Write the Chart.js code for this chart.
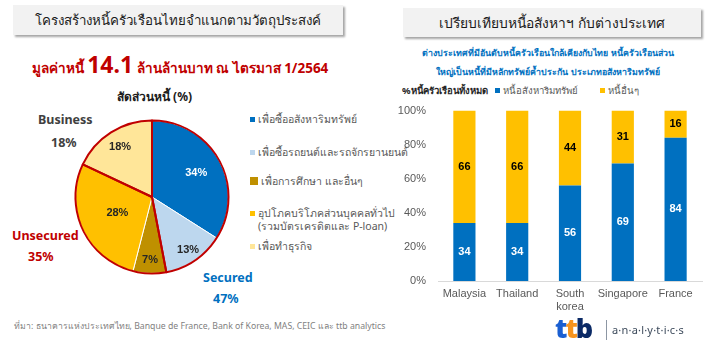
<!DOCTYPE html>
<html><head><meta charset="utf-8">
<script src="https://cdn.jsdelivr.net/npm/chart.js@4.4.1/dist/chart.umd.min.js"></script>
<style>
html,body{margin:0;padding:0;background:#fff;}
body{width:718px;height:358px;position:relative;overflow:hidden;font-family:"Noto Sans","Liberation Sans",Arial,sans-serif;}
.abs{position:absolute;white-space:nowrap;}
.tbox{position:absolute;background:#f2f2f2;box-shadow:2px 2px 2px #a6a6a6;color:#1a1a1a;display:flex;align-items:center;justify-content:center;white-space:nowrap;}
.leg{position:absolute;font-size:10.5px;color:#595959;white-space:nowrap;line-height:13px;}
.sq{display:inline-block;width:5px;height:5px;margin-right:3px;vertical-align:middle;position:relative;top:-1px;}
</style></head><body>
<div class="tbox" style="left:13px;top:5px;width:330px;height:30px;font-size:13.3px;">โครงสร้างหนี้ครัวเรือนไทยจำแนกตามวัตถุประสงค์</div>
<div class="abs" style="left:0;width:360px;top:48px;text-align:center;color:#c00000;font-size:13.5px;font-weight:bold;">มูลค่าหนี้ <span style="font-size:23px;">14.1</span> ล้านล้านบาท ณ ไตรมาส 1/2564</div>
<div class="abs" style="left:117px;top:87px;font-size:12px;font-weight:bold;color:#1a1a1a;">สัดส่วนหนี้ (%)</div>

<div class="abs" style="left:38px;top:111px;font-size:12.5px;font-weight:bold;color:#404040;">Business</div>
<div class="abs" style="left:51px;top:134px;font-size:12.5px;font-weight:bold;color:#404040;">18%</div>
<div class="abs" style="left:12px;top:227px;font-size:12.5px;font-weight:bold;color:#c00000;">Unsecured</div>
<div class="abs" style="left:28px;top:248px;font-size:12.5px;font-weight:bold;color:#c00000;">35%</div>
<div class="abs" style="left:203px;top:269px;font-size:12.5px;font-weight:bold;color:#0070c0;">Secured</div>
<div class="abs" style="left:213px;top:290px;font-size:12.5px;font-weight:bold;color:#0070c0;">47%</div>

<div id="pieLegend"></div>

<div style="position:absolute;left:62px;top:107px;width:180px;height:180px;"><canvas id="pie" width="180" height="180"></canvas></div>

<div class="tbox" style="left:403px;top:8px;width:298px;height:29px;font-size:13.8px;">เปรียบเทียบหนี้อสังหาฯ กับต่างประเทศ</div>
<div class="abs" style="left:370px;width:356px;top:44px;text-align:center;color:#0070c0;font-size:8.8px;font-weight:bold;line-height:19px;">ต่างประเทศที่มีอันดับหนี้ครัวเรือนใกล้เคียงกับไทย หนี้ครัวเรือนส่วน<br>ใหญ่เป็นหนี้ที่มีหลักทรัพย์ค้ำประกัน ประเภทอสังหาริมทรัพย์</div>
<div class="abs" style="left:402px;top:83px;font-size:9.5px;font-weight:bold;color:#262626;">%หนี้ครัวเรือนทั้งหมด</div>
<div id="barLegend"></div>

<div style="position:absolute;left:380px;top:100px;width:330px;height:215px;"><canvas id="bar" width="330" height="215"></canvas></div>

<div class="abs" style="left:14px;top:319px;font-size:8.7px;color:#7f7f7f;">ที่มา: ธนาคารแห่งประเทศไทย, Banque de France, Bank of Korea, MAS, CEIC และ ttb analytics</div>
<div class="abs" style="left:555px;top:313px;font-size:27px;font-weight:900;letter-spacing:-2px;font-family:'Open Sans','Noto Sans',sans-serif;line-height:30px;"><span style="color:#1b5fd1">t</span><span style="color:#f7941d">t</span><span style="color:#0b2a66">b</span></div>
<div class="abs" style="left:606px;top:320px;width:1px;height:20px;background:#8c96a3;"></div>
<div class="abs" style="left:612px;top:322px;font-size:11px;color:#3d4b5c;letter-spacing:0.2px;">a·n·a·l·y·t·i·c·s</div>

<script>
// ---- Pie data (left) ----
const pieLabels = ["เพื่อซื้ออสังหาริมทรัพย์","เพื่อซื้อรถยนต์และรถจักรยานยนต์","เพื่อการศึกษา และอื่นๆ","อุปโภคบริโภคส่วนบุคคลทั่วไป\n(รวมบัตรเครดิตและ P-loan)","เพื่อทำธุรกิจ"];
const pieValues = [34, 13, 7, 28, 18];
const pieColors = ["#0070c0","#bdd7ee","#bf9000","#ffc000","#ffe699"];
const pieLabelColors = ["#ffffff","#262626","#262626","#262626","#262626"];
const pieLabelRadius = [0.66, 0.84, 0.82, 0.5, 0.78];
const pieGroups = [[0,1],[2,3],[4]];

// ---- Bar data (right) ----
const countries = [["Malaysia"],["Thailand"],["South","korea"],["Singapore"],["France"]];
const realEstate = [34, 34, 56, 69, 84];
const otherDebt = [66, 66, 44, 31, 16];
const barSeriesNames = ["หนี้อสังหาริมทรัพย์","หนี้อื่นๆ"];
const barColors = ["#0070c0","#ffc000"];
const yTicks = [0,20,40,60,80,100];

// legends (HTML)
const legendTops = [113,146,175,207,240];
document.getElementById('pieLegend').innerHTML = pieLabels.map((l,i)=>
  `<div class="leg" style="left:250px;top:${legendTops[i]}px;"><span class="sq" style="background:${pieColors[i]};${i===2?'width:8px;height:8px;':''}"></span>${l.replace('\n','<br><span style="padding-left:8px"></span>')}</div>`).join('');
document.getElementById('barLegend').innerHTML =
  `<div class="leg" style="left:495px;top:84px;font-size:9.6px;"><span class="sq" style="background:${barColors[0]}"></span>${barSeriesNames[0]}</div>`+
  `<div class="leg" style="left:600px;top:84px;font-size:9.6px;"><span class="sq" style="background:${barColors[1]}"></span>${barSeriesNames[1]}</div>`;

const pieExtras = {
  id:'pieExtras',
  afterDatasetsDraw(chart){
    const ctx = chart.ctx;
    const arcs = chart.getDatasetMeta(0).data;
    ctx.save();
    ctx.strokeStyle = '#c00000'; ctx.lineWidth = 2; ctx.lineJoin='round';
    pieGroups.forEach(g=>{
      const a0 = arcs[g[0]], a1 = arcs[g[g.length-1]];
      ctx.beginPath();
      ctx.moveTo(a0.x, a0.y);
      ctx.arc(a0.x, a0.y, a0.outerRadius, a0.startAngle, a1.endAngle);
      ctx.closePath();
      ctx.stroke();
    });
    ctx.font = 'bold 11px "Liberation Sans", Arial, sans-serif';
    ctx.textAlign='center'; ctx.textBaseline='middle';
    arcs.forEach((a,i)=>{
      const mid = (a.startAngle + a.endAngle)/2;
      const r = a.outerRadius * pieLabelRadius[i];
      ctx.fillStyle = pieLabelColors[i];
      ctx.fillText(pieValues[i] + '%', a.x + Math.cos(mid)*r, a.y + Math.sin(mid)*r);
    });
    ctx.restore();
  }
};

new Chart(document.getElementById('pie'), {
  type:'pie',
  data:{labels:pieLabels, datasets:[{data:pieValues, backgroundColor:pieColors, borderColor:'#ffffff', borderWidth:1}]},
  options:{responsive:false, animation:false, layout:{padding:13},
    plugins:{legend:{display:false}, tooltip:{enabled:false}}},
  plugins:[pieExtras]
});

const barLabels = {
  id:'barLabels',
  afterDatasetsDraw(chart){
    const ctx = chart.ctx;
    ctx.save();
    ctx.font = 'bold 11px "Liberation Sans", Arial, sans-serif';
    ctx.textAlign='center'; ctx.textBaseline='middle';
    chart.data.datasets.forEach((ds,di)=>{
      chart.getDatasetMeta(di).data.forEach((el,i)=>{
        ctx.fillStyle = di===0 ? '#ffffff' : '#000000';
        ctx.fillText(String(ds.data[i]), el.x, (el.y+el.base)/2);
      });
    });
    ctx.restore();
  }
};

new Chart(document.getElementById('bar'), {
  type:'bar',
  data:{labels:countries, datasets:[
    {label:barSeriesNames[0], data:realEstate, backgroundColor:barColors[0]},
    {label:barSeriesNames[1], data:otherDebt, backgroundColor:barColors[1]}
  ]},
  options:{responsive:false, animation:false,
    layout:{padding:{top:7,right:8,left:0,bottom:0}},
    datasets:{bar:{barPercentage:0.42, categoryPercentage:1}},
    plugins:{legend:{display:false}, tooltip:{enabled:false}},
    scales:{
      x:{stacked:true, grid:{display:false, drawTicks:false}, border:{display:true,color:'#d9d9d9'},
         ticks:{color:'#595959', font:{size:11, family:'"Liberation Sans", Arial, sans-serif'}, padding:6, maxRotation:0, autoSkip:false},
         afterFit(s){ s.height = 34; }},
      y:{stacked:true, min:0, max:100, grid:{display:false}, border:{display:false},
         afterBuildTicks(s){ s.ticks = yTicks.map(v=>({value:v})); },
         ticks:{color:'#595959', font:{size:11, family:'"Liberation Sans", Arial, sans-serif'}, padding:4, callback:v=>v+'%'},
         afterFit(s){ s.width = 58; }}
    }
  },
  plugins:[barLabels]
});
</script>
</body></html>
